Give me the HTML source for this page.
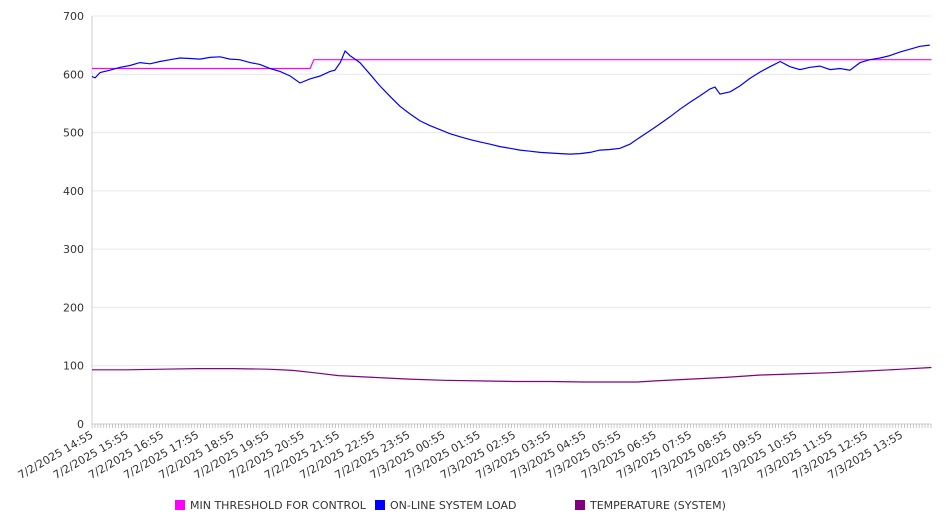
<!DOCTYPE html>
<html><head><meta charset="utf-8"><style>
body{margin:0;background:#fff;}
svg text{font-family:"DejaVu Sans","Liberation Sans",sans-serif;fill:#333;}
</style></head><body>
<svg id="chart" width="946" height="526" xmlns="http://www.w3.org/2000/svg">
<g id="grid"></g>
<g id="axes"></g>
<g id="series"></g>
<g id="legend">
<g><rect x="175" y="500" width="10" height="10" fill="#ff00ff"/><text x="190" y="509" font-size="11">MIN THRESHOLD FOR CONTROL</text></g>
<g><rect x="375" y="500" width="10" height="10" fill="#0000ff"/><text x="390" y="509" font-size="11">ON-LINE SYSTEM LOAD</text></g>
<g><rect x="575" y="500" width="10" height="10" fill="#800080"/><text x="590" y="509" font-size="11">TEMPERATURE (SYSTEM)</text></g>
</g>
</svg>
<script>
const tickLabels=["7/2/2025 14:55","7/2/2025 15:55","7/2/2025 16:55","7/2/2025 17:55","7/2/2025 18:55","7/2/2025 19:55","7/2/2025 20:55","7/2/2025 21:55","7/2/2025 22:55","7/2/2025 23:55","7/3/2025 00:55","7/3/2025 01:55","7/3/2025 02:55","7/3/2025 03:55","7/3/2025 04:55","7/3/2025 05:55","7/3/2025 06:55","7/3/2025 07:55","7/3/2025 08:55","7/3/2025 09:55","7/3/2025 10:55","7/3/2025 11:55","7/3/2025 12:55","7/3/2025 13:55"];
const yTicks=[0,100,200,300,400,500,600,700];
const thresholdHours=[0,6.2,6.3,23.85];
const thresholdValues=[610,610,625,625];
const loadHours=[0,0.09,0.23,0.51,0.8,1.08,1.36,1.65,1.93,2.22,2.5,2.78,3.07,3.35,3.64,3.92,4.2,4.49,4.77,5.06,5.34,5.63,5.91,6.19,6.48,6.76,6.9,7.05,7.19,7.33,7.61,7.9,8.18,8.47,8.75,9.03,9.32,9.6,9.89,10.17,10.45,10.74,11.02,11.31,11.59,11.88,12.16,12.44,12.73,13.01,13.3,13.58,13.86,14.15,14.43,14.72,15.0,15.28,15.57,15.85,16.14,16.42,16.7,16.99,17.27,17.56,17.7,17.84,18.13,18.41,18.69,18.98,19.26,19.55,19.83,20.11,20.4,20.68,20.97,21.25,21.53,21.82,22.1,22.39,22.67,22.95,23.24,23.52,23.8];
const loadValues=[596,594,603,607,612,615,620,618,622,625,628,627,626,629,630,626,625,620,617,610,605,597,585,592,597,605,607,620,640,632,620,600,580,562,545,532,520,512,505,498,493,488,484,480,476,473,470,468,466,465,464,463,464,466,470,471,473,480,492,503,515,527,540,552,563,575,578,566,570,580,593,604,613,622,613,608,612,614,608,610,607,620,625,628,632,638,643,648,650];
const tempHours=[0,1,2,3,4,5,5.7,6.3,7,8,9,10,11,12,13,14,15,15.5,16,17,18,19,20,21,22,23,23.85];
const tempValues=[93,93,94,95,95,94,92,88,83,80,77,75,74,73,73,72,72,72,74,77,80,84,86,88,91,94,97];
const X0=92,X1=931,Y0=424,Y1=16,HMAX=23.85,HSTEP=35.2;
const sx=h=>X0+h*HSTEP;
const sy=v=>Y0-(v/700)*(Y0-Y1);
const NS="http://www.w3.org/2000/svg";
function mk(tag,attrs,parent){const e=document.createElementNS(NS,tag);for(const k in attrs)e.setAttribute(k,attrs[k]);parent.appendChild(e);return e;}
const grid=document.getElementById('grid'),axes=document.getElementById('axes'),series=document.getElementById('series');
yTicks.forEach(v=>{
 const l=mk('line',{x1:X0,x2:X1,y1:sy(v),y2:sy(v),stroke:v===0?'#ccc':'#e8e8e8','stroke-width':1},grid);
 
 
 const t=mk('text',{x:X0-8,y:sy(v)+4,'text-anchor':'end','font-size':11},axes);
 t.textContent=v;
 
 
});
const ya=mk('line',{x1:X0,x2:X0,y1:Y1,y2:Y0,stroke:'#ccc'},axes);


for(let i=0;i<=Math.floor(HMAX*12);i++){
 const x=sx(i/12);
 const m=mk('line',{x1:x,x2:x,y1:Y0,y2:Y0+4,stroke:'#bbb','stroke-width':0.8},axes);
 
 
}
tickLabels.forEach((lab,i)=>{
 const x=sx(i);
 const t=mk('text',{x:x+2,y:Y0+13,'text-anchor':'end','font-size':11,transform:`rotate(-30 ${x+2} ${Y0+13})`},axes);
 t.textContent=lab;
 
 
});
function line(hs,vs,color,name){
 const d=hs.map((h,i)=>(i?'L':'M')+sx(h).toFixed(1)+' '+sy(vs[i]).toFixed(1)).join(' ');
 const p=mk('path',{d:d,fill:'none',stroke:color,'stroke-width':1.2},series);
 
 
}
line(tempHours,tempValues,'#800080','temperature-line');
line(thresholdHours,thresholdValues,'#ff00ff','threshold-line');
line(loadHours,loadValues,'#0000ff','load-line');
</script>
</body></html>
